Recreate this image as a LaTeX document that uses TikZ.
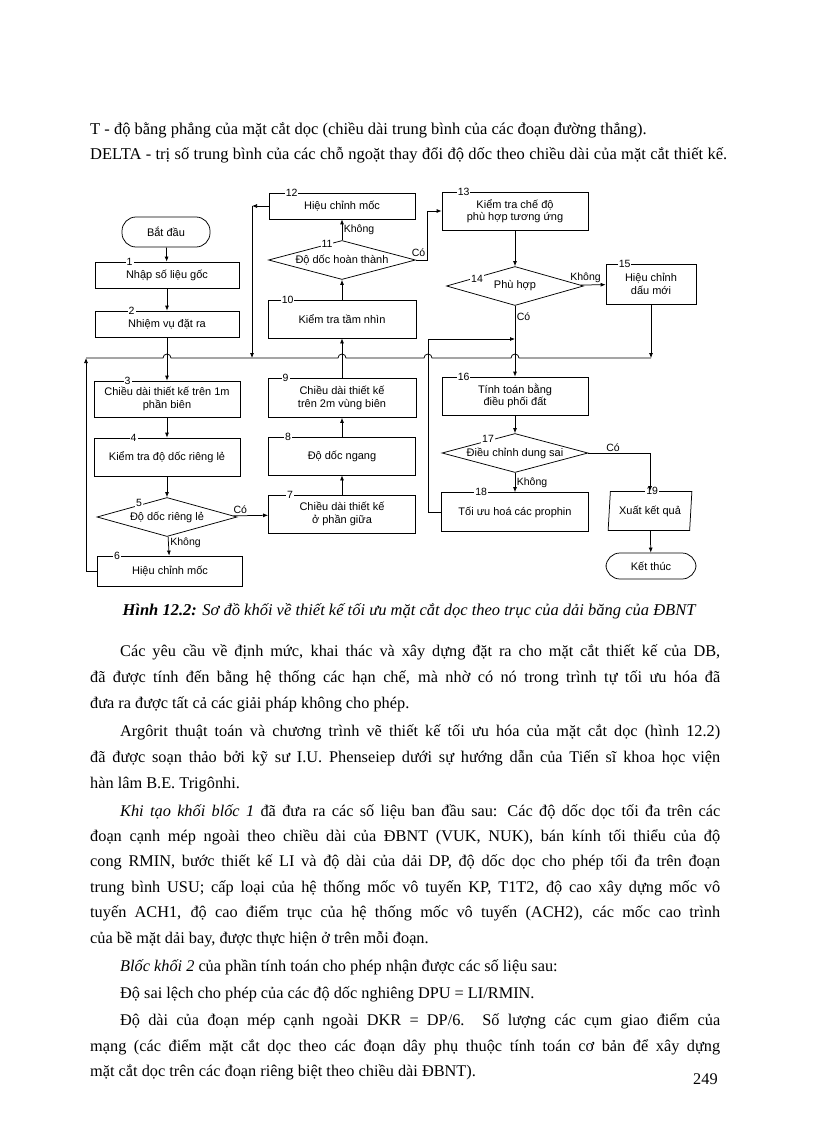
\documentclass[tikz,border=0pt]{standalone}
\usepackage{fontspec}
\setmainfont{Liberation Serif}
\newfontfamily\chartfont{Liberation Sans}
\usetikzlibrary{arrows.meta, positioning, shapes.geometric}

\begin{document}
\begin{tikzpicture}[x=1pt, y=-1pt,
    box/.style={draw, line width=0.75pt, font=\chartfont\fontsize{11}{12.5}\selectfont,
                align=center, inner sep=1pt},
    dec/.style={box, diamond, aspect=3.6, inner sep=0pt},
    term/.style={box, rounded corners=14pt},
    io/.style={box, trapezium, trapezium left angle=82, trapezium right angle=98,
               trapezium stretches=true},
    tag/.style={fill=white, inner sep=1pt, font=\chartfont\fontsize{10.5}{11}\selectfont},
    lbl/.style={font=\chartfont\fontsize{10.5}{11}\selectfont, inner sep=1.5pt},
    a/.style={-{Latex[length=5pt, width=4pt]}, line width=0.75pt},
    ln/.style={line width=0.75pt},
    txt/.style={inner sep=0pt, anchor=base west, font=\fontsize{16.3}{26}\selectfont}]
  \fill[white] (0,0) rectangle (816,1123);
  \useasboundingbox (0,0) rectangle (816,1123);

  % page text above the figure
  \node[txt, font=\fontsize{16.5}{20}\selectfont] (t1) at (90,135)
    {T - độ bằng phẳng của mặt cắt dọc (chiều dài trung bình của các đoạn đường thẳng).};
  \node[txt, font=\fontsize{16.5}{20}\selectfont] (t2) at (90,160)
    {\makebox[637pt][s]{DELTA - trị số trung bình của các chỗ ngoặt thay đổi độ dốc theo chiều dài của mặt cắt thiết kế.}};

  % left column
  \node[term, minimum width=88pt, minimum height=30pt] (start) at (166,232) {Bắt đầu};
  \node[box, minimum width=144pt, minimum height=26pt] (b1) at (167,275) {Nhập số liệu gốc};
  \node[box, minimum width=144pt, minimum height=26pt] (b2) at (167,324) {Nhiệm vụ đặt ra};
  \node[box, minimum width=146pt, minimum height=36pt] (b3) at (167,399)
    {Chiều dài thiết kế trên 1m\\phần biên};
  \node[box, minimum width=146pt, minimum height=38pt] (b4) at (167,457) {Kiểm tra độ dốc riêng lẻ};
  \node[dec, minimum width=140pt, minimum height=39pt] (b5) at (167,517) {Độ dốc riêng lẻ};
  \node[box, minimum width=145pt, minimum height=30pt] (b6) at (170,571) {Hiệu chỉnh mốc};

  % middle column
  \node[box, minimum width=147pt, minimum height=38pt] (b7) at (342,514)
    {Chiều dài thiết kế\\ở phần giữa};
  \node[box, minimum width=147pt, minimum height=38pt] (b8) at (342,456) {Độ dốc ngang};
  \node[box, minimum width=148pt, minimum height=39pt] (b9) at (342,398)
    {Chiều dài thiết kế\\trên 2m vùng biên};
  \node[box, minimum width=148pt, minimum height=38pt] (b10) at (342,319) {Kiểm tra tầm nhìn};
  \node[dec, minimum width=147pt, minimum height=39pt] (b11) at (342,260) {Độ dốc hoàn thành};
  \node[box, minimum width=146pt, minimum height=26pt] (b12) at (342,206) {Hiệu chỉnh mốc};

  % right column
  \node[box, minimum width=146pt, minimum height=38pt] (b13) at (515,211)
    {Kiểm tra chế độ\\phù hợp tương ứng};
  \node[dec, minimum width=137pt, minimum height=39pt] (b14) at (515,286) {Phù hợp};
  \node[box, minimum width=90pt, minimum height=40pt] (b15) at (651,284) {Hiệu chỉnh\\dấu mới};
  \node[box, minimum width=146pt, minimum height=38pt] (b16) at (515,396)
    {Tính toán bằng\\điều phối đất};
  \node[dec, minimum width=146pt, minimum height=39pt] (b17) at (515,453) {Điều chỉnh dung sai};
  \node[box, minimum width=147pt, minimum height=39pt] (b18) at (515,512) {Tối ưu hoá các prophin};
  \node[io, minimum width=84pt, minimum height=39pt] (b19) at (650,511) {Xuất kết quả};
  \node[term, minimum width=90pt, minimum height=26pt] (stop) at (651,566) {Kết thúc};

  % block numbers
  \node[tag] at ([xshift=35pt]b1.north west) {1};
  \node[tag] at ([xshift=37pt]b2.north west) {2};
  \node[tag] at ([xshift=34pt]b3.north west) {3};
  \node[tag] at ([xshift=40pt]b4.north west) {4};
  \node[tag] at ([shift={(-28,-14)}]b5.center) {5};
  \node[tag] at ([xshift=20pt]b6.north west) {6};
  \node[tag] at ([xshift=22pt]b7.north west) {7};
  \node[tag] at ([xshift=20pt]b8.north west) {8};
  \node[tag] at ([xshift=18pt]b9.north west) {9};
  \node[tag] at ([xshift=20pt]b10.north west) {10};
  \node[tag] at ([shift={(-15,-16)}]b11.center) {11};
  \node[tag] at ([xshift=23pt]b12.north west) {12};
  \node[tag] at ([xshift=22pt]b13.north west) {13};
  \node[tag] at ([shift={(-38,-7)}]b14.center) {14};
  \node[tag] at ([xshift=19pt]b15.north west) {15};
  \node[tag] at ([xshift=22pt]b16.north west) {16};
  \node[tag] at ([shift={(-27,-14)}]b17.center) {17};
  \node[tag] at ([xshift=40pt]b18.north west) {18};
  \node[tag] at ([xshift=22pt]b19.north west) {19};

  % the collecting line
  \coordinate (busL) at (86,358);
  \coordinate (busR) at (651,358);
  \draw[ln] (busL) -- (163,358) arc (180:360:4) -- (338,358) arc (180:360:4)
    -- (424,358) arc (180:360:4) -- (511,358) arc (180:360:4) -- (busR);

  % connectors
  \draw[a] (start) -- (b1);
  \draw[a] (b1) -- (b2);
  \draw[a] (b2) -- (b3);
  \draw[a] (b3) -- (b4);
  \draw[a] (b4) -- (b5);
  \draw[a] (b5) -- node[lbl, right, pos=0.35] {Không} (b6);
  \draw[a] (b5) -- node[lbl, above, pos=0.2] {Có} (b7);
  \draw[a] (b6.west) -| (busL);
  \draw[a] (b7) -- (b8);
  \draw[a] (b8) -- (b9);
  \draw[a] (b9) -- (b10);
  \draw[a] (b10) -- (b11);
  \draw[a] (b11) -- node[lbl, right] {Không} (b12);
  \coordinate (c12) at (252,206);
  \draw[a] (b12.west) -- (c12);
  \draw[a] (c12) -- (c12 |- busL);
  \coordinate (c11) at (427,260);
  \draw[a] (b11.east) -- (c11) |- (b13.west);
  \node[lbl, anchor=south east] at ([yshift=2pt]c11) {Có};
  \draw[a] (b13) -- (b14);
  \draw[a] (b14) -- node[lbl, above, pos=0.2] {Không} (b15);
  \draw[a] (b15.south) -- (b15.south |- busL);
  \draw[a] (b14) -- node[lbl, right, pos=0.15] {Có} (b16);
  \draw[a] (b16) -- (b17);
  \draw[a] (b17) -- node[lbl, right] {Không} (b18);
  \draw[a] (b17.east) -| node[lbl, above, pos=0.2] {Có} (b19);
  \coordinate (c18) at (428,339);
  \draw[ln] (b18.west) -| (c18);
  \draw[a] (c18) -- (c18 -| b14.south);
  \draw[a] (b19) -- (stop);

  % caption
  \node[anchor=base, inner sep=0pt, font=\fontsize{16.5}{18}\selectfont\itshape] (cap) at (409,615)
    {\textbf{Hình 12.2:} Sơ đồ khối về thiết kế tối ưu mặt cắt dọc theo trục của dải băng của ĐBNT};

  % page text below the figure
  \node[txt] (p1) at (120,656) {\makebox[600pt][s]{Các yêu cầu về định mức, khai thác và xây dựng đặt ra cho mặt cắt thiết kế của DB,}};
  \node[txt] (p2) at (90,682) {\makebox[630pt][s]{đã được tính đến bằng hệ thống các hạn chế, mà nhờ có nó trong trình tự tối ưu hóa đã}};
  \node[txt] (p3) at (90,708) {đưa ra được tất cả các giải pháp không cho phép.};
  \node[txt] (p4) at (120,736) {\makebox[600pt][s]{Argôrit thuật toán và chương trình vẽ thiết kế tối ưu hóa của mặt cắt dọc (hình 12.2)}};
  \node[txt] (p5) at (90,762) {\makebox[630pt][s]{đã được soạn thảo bởi kỹ sư I.U. Phenseiep dưới sự hướng dẫn của Tiến sĩ khoa học viện}};
  \node[txt] (p6) at (90,788) {hàn lâm B.E. Trigônhi.};
  \node[txt] (p7) at (120,816) {\makebox[600pt][s]{\textit{Khi tạo khối blốc 1} đã đưa ra các số liệu ban đầu sau: Các độ dốc dọc tối đa trên các}};
  \node[txt] (p8) at (90,841) {\makebox[630pt][s]{đoạn cạnh mép ngoài theo chiều dài của ĐBNT (VUK, NUK), bán kính tối thiểu của độ}};
  \node[txt] (p9) at (90,866) {\makebox[630pt][s]{cong RMIN, bước thiết kế LI và độ dài của dải DP, độ dốc dọc cho phép tối đa trên đoạn}};
  \node[txt] (p10) at (90,892) {\makebox[630pt][s]{trung bình USU; cấp loại của hệ thống mốc vô tuyến KP, T1T2, độ cao xây dựng mốc vô}};
  \node[txt] (p11) at (90,917) {\makebox[630pt][s]{tuyến ACH1, độ cao điểm trục của hệ thống mốc vô tuyến (ACH2), các mốc cao trình}};
  \node[txt] (p12) at (90,943) {của bề mặt dải bay, được thực hiện ở trên mỗi đoạn.};
  \node[txt] (p13) at (120,971) {\textit{Blốc khối 2} của phần tính toán cho phép nhận được các số liệu sau:};
  \node[txt] (p14) at (120,998) {Độ sai lệch cho phép của các độ dốc nghiêng DPU = LI/RMIN.};
  \node[txt] (p15) at (120,1025) {\makebox[600pt][s]{Độ dài của đoạn mép cạnh ngoài DKR = DP/6. Số lượng các cụm giao điểm của}};
  \node[txt] (p16) at (90,1051) {\makebox[630pt][s]{mạng (các điểm mặt cắt dọc theo các đoạn dây phụ thuộc tính toán cơ bản để xây dựng}};
  \node[txt] (p17) at (90,1076) {mặt cắt dọc trên các đoạn riêng biệt theo chiều dài ĐBNT).};
  \node[txt] (pg) at (693,1084) {249};
\end{tikzpicture}
\end{document}
